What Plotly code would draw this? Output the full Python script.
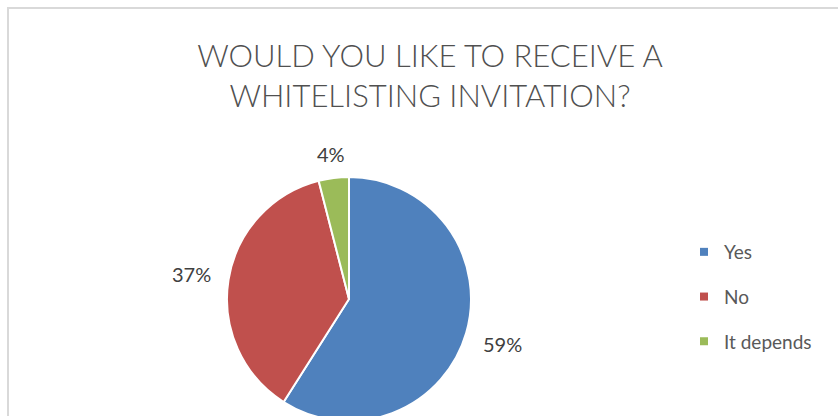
import math
import plotly.graph_objects as go

# Survey answers and their shares (%)
answers = ["Yes", "No", "It depends"]
shares = [59, 37, 4]
colors = ["#4F81BD", "#C0504D", "#9BBB59"]
title_lines = ["WOULD YOU LIKE TO RECEIVE A", "WHITELISTING INVITATION?"]

W, H = 838, 424
FONT = "Lato, 'Open Sans', sans-serif"

fig = go.Figure()

# Pie centred at (349, 299) px with a radius of 122 px
cx, cy, r = 349, 299, 122
fig.add_trace(go.Pie(
    labels=answers,
    values=shares,
    sort=False,
    direction="clockwise",
    rotation=0,
    marker=dict(colors=colors, line=dict(color="white", width=2)),
    textinfo="none",
    showlegend=False,
    hoverinfo="label+percent",
    domain=dict(x=[(cx - r) / W, (cx + r) / W],
                y=[(H - cy - r) / H, (H - cy + r) / H]),
))

# Percentage labels placed outside each slice, along its middle angle
total = sum(shares)
annotations = []
start = 0.0
for v in shares:
    mid = math.radians((start + v / 2) / total * 360.0)
    start += v
    s, c = math.sin(mid), math.cos(mid)
    d = r + 17 + abs(s) * 20 + abs(c) * 5
    px, py = cx + d * s, cy - d * c
    annotations.append(dict(
        text=f"{v}%", x=px / W, y=(H - py) / H,
        xref="paper", yref="paper", showarrow=False,
        xanchor="center", yanchor="middle",
        font=dict(family=FONT, size=20, color="#404040"),
    ))

# Legend entries with small square swatches
for name, col in zip(answers, colors):
    fig.add_trace(go.Scatter(
        x=[None], y=[None], mode="markers", name=name,
        legendgroup=name,
        marker=dict(symbol="square", size=8, color=col),
    ))

fig.update_layout(
    width=W, height=H,
    margin=dict(l=0, r=0, t=0, b=0),
    paper_bgcolor="white",
    plot_bgcolor="white",
    xaxis=dict(visible=False),
    yaxis=dict(visible=False),
    title=dict(
        text="<br>".join(title_lines),
        x=430 / W, xanchor="center",
        y=1 - 67 / H, yanchor="top",
        font=dict(family=FONT, size=31, color="#505050", weight=300),
    ),
    legend=dict(
        x=684 / W, xanchor="left",
        y=(H - 297) / H, yanchor="middle",
        font=dict(family=FONT, size=19, color="#595959"),
        tracegroupgap=17,
        itemwidth=30,
        bgcolor="rgba(0,0,0,0)",
    ),
    annotations=annotations,
    shapes=[dict(
        type="rect", xref="paper", yref="paper",
        x0=8 / W, x1=1.05, y0=-0.05, y1=1 - 8 / H,
        line=dict(color="#D9D9D9", width=2),
        fillcolor="rgba(0,0,0,0)", layer="below",
    )],
)

fig.write_html(
    "out.html",
    post_script="document.documentElement.style.overflow='hidden';"
                "document.body.style.overflow='hidden';",
)
